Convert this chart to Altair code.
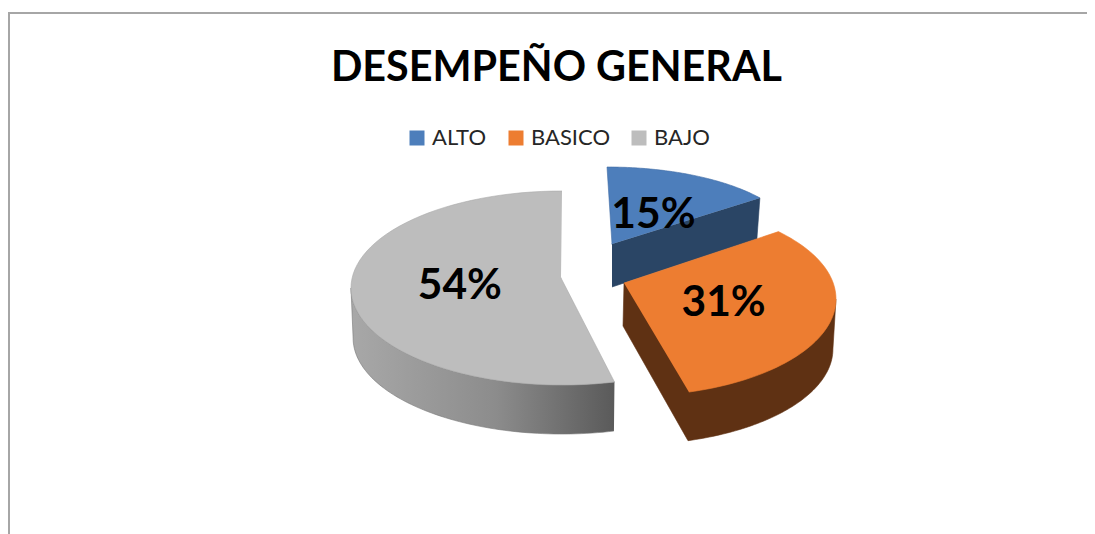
import numpy as np
import pandas as pd
import altair as alt

# ---- chart values ----
categories = ["ALTO", "BASICO", "BAJO"]
shares = [15, 31, 54]
top_colors = ["#4d7ebb", "#ed7d31", "#bdbdbd"]
wall_colors = ["#2a4565", "#5f3113", "#8c8c8c"]
title_text = "DESEMPEÑO GENERAL"

# ---- drawing geometry of the tilted, exploded pie (page pixels) ----
W, H = 1079, 526
geometry = {
    "ALTO":   dict(cx=607, cy=242, a=189, b=75, ax=612, ay=244, ds=0,  de=0,  depth=42, lx=1, ly=5),
    "BASICO": dict(cx=631, cy=299, a=205, b=97, ax=624, ay=283, ds=-8, de=-2, depth=50, lx=-3, ly=0),
    "BAJO":   dict(cx=562, cy=288, a=211, b=97, ax=561, ay=278, ds=0,  de=0,  depth=50, lx=3, ly=-3),
}

ends = np.cumsum(shares) * 3.6
starts = ends - np.array(shares) * 3.6


def rim(g, t, dy=0.0, k=1.0):
    r = np.radians(t)
    return g["cx"] + k * g["a"] * np.sin(r), g["cy"] + dy - k * g["b"] * np.cos(r)


def arc(g, t0, t1, dy=0.0, k=1.0, n=70):
    return [rim(g, t, dy, k) for t in np.linspace(t0, t1, n)]


def frame(points):
    return pd.DataFrame({"px": [p[0] for p in points], "py": [p[1] for p in points], "i": range(len(points))})


X = alt.X("px:Q", axis=None, scale=alt.Scale(domain=[8, 8 + W], range=[0, W], nice=False, zero=False))
Y = alt.Y("py:Q", axis=None, scale=alt.Scale(domain=[8, 8 + H], range=[0, H], nice=False, zero=False))


def poly(points, fill, stroke=None):
    return alt.Chart(frame(points)).mark_line(
        fill=fill, stroke=stroke or (fill if isinstance(fill, str) else "#777777"),
        strokeWidth=0.6, clip=False
    ).encode(x=X, y=Y, order=alt.Order("i:Q"))


layers = []
spans = {}
for c, s, e in zip(categories, starts, ends):
    g = geometry[c]
    spans[c] = (s + g["ds"], e + g["de"])

# grey slice
g = geometry["BAJO"]
t0, t1 = spans["BAJO"]
grey_grad = alt.Gradient(
    gradient="linear", x1=0, x2=1, y1=0, y2=0,
    stops=[alt.GradientStop(offset=0, color="#a8a8a8"),
           alt.GradientStop(offset=0.55, color="#8c8c8c"),
           alt.GradientStop(offset=1, color="#5a5a5a")],
)
layers.append(poly(arc(g, t0, 270) + arc(g, 270, t0, g["depth"], 0.99), grey_grad))
layers.append(poly([(g["ax"], g["ay"])] + arc(g, t0, t1), top_colors[2], "#a9a9a9"))

# blue slice
g = geometry["ALTO"]
t0, t1 = spans["ALTO"]
rx, ry = rim(g, t1)
layers.append(poly([(g["ax"], g["ay"]), (rx, ry), (rx - 3, ry + 41), (g["ax"], g["ay"] + 43)], wall_colors[0]))
layers.append(poly([(g["ax"], g["ay"])] + arc(g, t0, t1), top_colors[0], "#3f6ca5"))

# orange slice
g = geometry["BASICO"]
t0, t1 = spans["BASICO"]
layers.append(poly([(g["ax"], g["ay"]), (g["ax"] - 1, g["ay"] + 43)] + arc(g, t1, 90, g["depth"], 0.985) + [rim(g, 90), (g["ax"], g["ay"])], wall_colors[1]))
layers.append(poly([(g["ax"], g["ay"])] + arc(g, t0, t1), top_colors[1]))

# legend carrier (hidden under the slices)
hidden = pd.DataFrame({
    "cat": categories,
    "px": [geometry[c]["ax"] for c in categories],
    "py": [geometry[c]["ay"] for c in categories],
})
legend_layer = alt.Chart(hidden).mark_square(size=1, opacity=1).encode(
    x=X, y=Y,
    color=alt.Color(
        "cat:N",
        scale=alt.Scale(domain=categories, range=top_colors),
        sort=categories,
        legend=alt.Legend(
            orient="none", legendX=398, legendY=119, direction="horizontal", title=None,
            symbolType="square", symbolSize=225, symbolStrokeWidth=0, labelFont="Lato",
            labelFontSize=22, labelColor="#262626", columns=3, columnPadding=18, labelOffset=4,
        ),
    ),
)

# percentage labels, halfway along each slice's mid radius
rows = []
for c, v in zip(categories, shares):
    g = geometry[c]
    mid = sum(spans[c]) / 2
    mx, my = rim(g, mid)
    rows.append({"px": g["ax"] + 0.5 * (mx - g["ax"]) + g["lx"], "py": g["ay"] + 0.5 * (my - g["ay"]) + g["ly"], "label": f"{v}%"})
labels = alt.Chart(pd.DataFrame(rows)).mark_text(
    font="Lato", fontWeight="bold", fontSize=42.5, color="#000000", baseline="middle", align="center"
).encode(x=X, y=Y, text="label:N")

# chart frame
frame_left = alt.Chart(pd.DataFrame({"px": [9], "py": [13], "py2": [534]})).mark_rule(color="#a6a6a6", strokeWidth=2).encode(x=X, y=Y, y2="py2:Q")
frame_top = alt.Chart(pd.DataFrame({"px": [8], "px2": [1087], "py": [13]})).mark_rule(color="#a6a6a6", strokeWidth=2).encode(x=X, x2="px2:Q", y=Y)

chart = alt.layer(frame_left, frame_top, legend_layer, *layers, labels).properties(
    width=W, height=H, padding=0,
    autosize=alt.AutoSizeParams(type="none"),
    title=alt.TitleParams(title_text, font="Lato", fontWeight="bold", fontSize=41.3, color="#000000",
                          anchor="middle", dx=9, dy=81, offset=0),
).configure_view(stroke=None)

chart.save("out.html", embed_options={"renderer": "svg", "actions": False})
